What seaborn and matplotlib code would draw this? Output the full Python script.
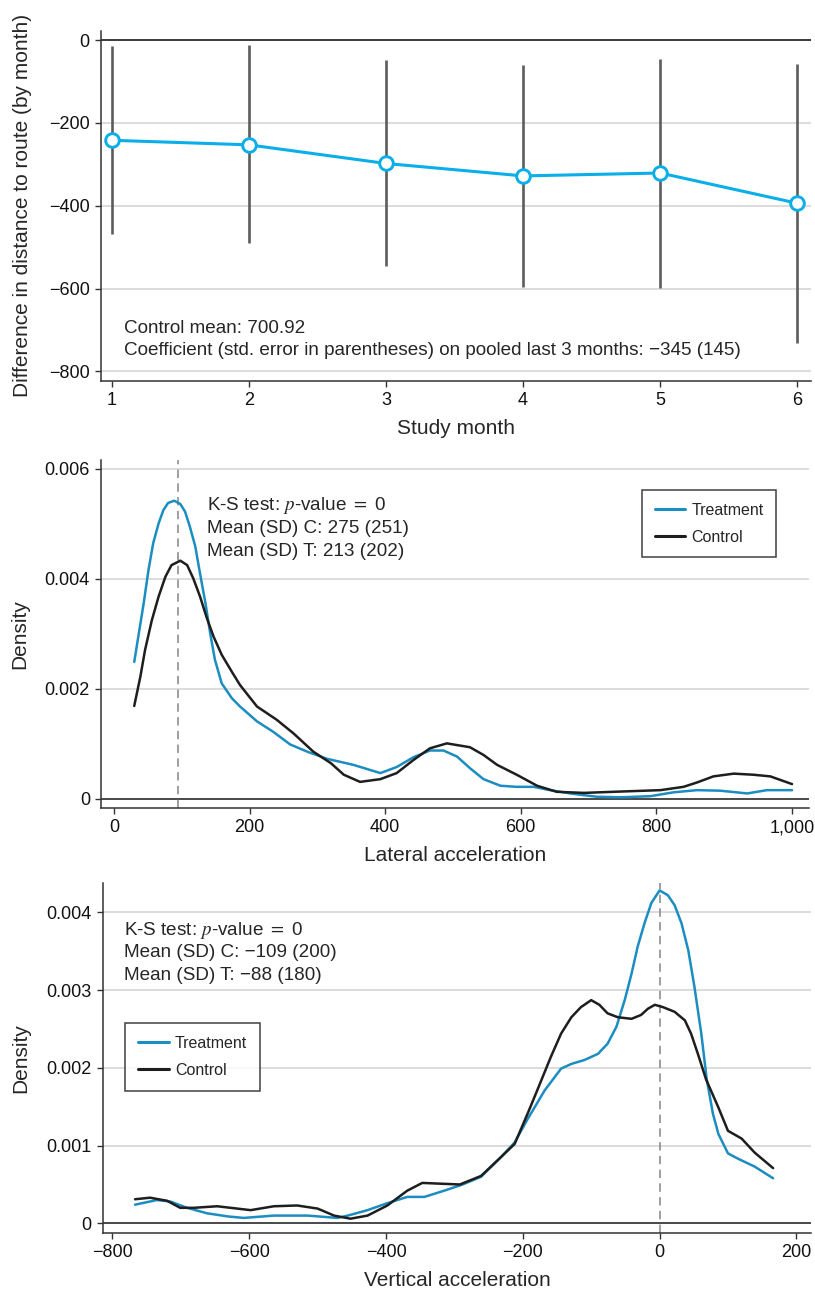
import matplotlib
matplotlib.use("Agg")
import matplotlib.pyplot as plt
from matplotlib.ticker import FuncFormatter, FixedLocator
import seaborn as sns

# ---- Panel A: monthly treatment effect on distance to route ----
months = [1, 2, 3, 4, 5, 6]
coef = [-242, -253, -298, -328, -321, -394]
ci_low = [-469, -491, -546, -596, -598, -731]
ci_high = [-14, -13, -48, -60, -46, -58]
control_mean_text = "Control mean: 700.92"
pooled_text = "Coefficient (std. error in parentheses) on pooled last 3 months: \u2212345 (145)"

# ---- Panel B: lateral acceleration densities ----
lat_treat_x = [30, 36, 44, 51, 58, 66, 73, 80, 89, 98, 105, 112, 120, 127, 135, 142, 149, 159,
               174, 186, 211, 235, 260, 285, 314, 353, 393, 417, 442, 466, 486, 506, 525, 545,
               570, 594, 619, 643, 673, 712, 747, 791, 825, 860, 894, 934, 963, 1000]
lat_treat_d = [.00249, .00295, .00356, .00416, .00465, .00501, .00525, .00538, .00542, .00536,
               .00522, .00495, .00459, .0041, .00356, .00301, .00253, .0021, .00183, .00168,
               .00141, .00122, .00099, .00086, .00073, .00062, .00047, .00058, .00076, .00088,
               .00088, .00077, .00056, .00036, .00024, .00022, .00022, .00016, .0001, .00004,
               .00003, .00005, .00012, .00016, .00015, .0001, .00016, .00016]
lat_ctrl_x = [30, 39, 46, 56, 66, 76, 85, 98, 108, 117, 127, 137, 147, 159, 174, 186, 211, 240,
              265, 294, 320, 339, 363, 393, 417, 442, 466, 491, 525, 545, 565, 594, 624, 653,
              693, 737, 806, 840, 860, 884, 914, 943, 968, 1000]
lat_ctrl_d = [.00169, .00222, .00271, .00325, .00368, .00404, .00425, .00433, .00425, .00401,
              .00368, .00329, .00295, .00262, .00231, .00207, .00168, .00144, .00119, .00086,
              .00065, .00044, .00031, .00036, .00047, .00071, .00092, .00101, .00094, .0008,
              .00062, .00044, .00024, .00013, .00011, .00013, .00016, .00022, .0003, .00041,
              .00046, .00044, .00041, .00027]
lat_mode = 95
lat_notes = [r"K-S test: $p$-value $=$ 0", "Mean (SD) C: 275 (251)", "Mean (SD) T: 213 (202)"]

# ---- Panel C: vertical acceleration densities ----
vert_treat_x = [-767, -735, -715, -691, -662, -632, -608, -564, -515, -471, -456, -427, -398,
                -369, -344, -315, -288, -261, -232, -212, -193, -168, -156, -144, -129, -110,
                -90, -76, -63, -51, -41, -32, -22, -12, 0, 12, 22, 32, 42, 51, 61, 69, 78, 86,
                100, 115, 139, 166]
vert_treat_d = [.00024, .0003, .00028, .0002, .00013, .00009, .00007, .0001, .0001, .00007,
                .0001, .00017, .00026, .00034, .00034, .00042, .0005, .0006, .00085, .00104,
                .00134, .00171, .00185, .00199, .00205, .0021, .00218, .00231, .00253, .00287,
                .00321, .00356, .00386, .00412, .00428, .00422, .00409, .00386, .00351, .00304,
                .00244, .00185, .00141, .00115, .0009, .00083, .00073, .00058]
vert_ctrl_x = [-767, -745, -720, -701, -681, -647, -598, -564, -530, -500, -476, -452, -427,
               -398, -369, -347, -320, -292, -261, -237, -212, -193, -178, -159, -144, -129,
               -115, -100, -88, -76, -61, -41, -27, -17, -7, 5, 22, 37, 46, 56, 68, 86, 100,
               120, 139, 166]
vert_ctrl_d = [.00031, .00033, .00029, .0002, .0002, .00022, .00017, .00022, .00023, .00019,
               .0001, .00006, .0001, .00023, .00042, .00052, .00051, .0005, .00061, .00081,
               .00102, .00141, .00173, .00214, .00244, .00265, .00278, .00287, .00281, .0027,
               .00265, .00263, .00268, .00276, .00281, .00278, .00272, .00261, .00244, .00218,
               .00185, .00149, .00119, .00109, .00091, .00071]
vert_mode = 0
vert_notes = [r"K-S test: $p$-value $=$ 0", "Mean (SD) C: \u2212109 (200)", "Mean (SD) T: \u221288 (180)"]

group_names = ["Treatment", "Control"]

# ---- style ----
sns.set_style("ticks")
plt.rcParams["font.family"] = ["Liberation Sans", "DejaVu Sans"]
plt.rcParams["mathtext.fontset"] = "stix"
plt.rcParams["axes.unicode_minus"] = True

CYAN = "#0aaee8"
BLUE = "#1b8dc0"
BLACK = "#1e1e1e"
BAR_GRAY = "#5c5c5c"
GRID = "#d2d2d2"
SPINE = "#333333"

W, H = 815, 1291
fig = plt.figure(figsize=(W / 100, H / 100), dpi=100)


def px_axes(x0, x1, y0, y1):
    return fig.add_axes([x0 / W, 1 - y1 / H, (x1 - x0) / W, (y1 - y0) / H])


def style_axes(ax):
    sns.despine(ax=ax)
    for s in ("left", "bottom"):
        ax.spines[s].set_color(SPINE)
        ax.spines[s].set_linewidth(1.1)
    ax.tick_params(axis="both", direction="out", length=4, width=1.0, color=SPINE,
                   labelsize=13, pad=4, labelcolor="#111111")
    ax.set_axisbelow(True)
    ax.yaxis.grid(True, color=GRID, lw=1.1)
    ax.xaxis.grid(False)


# ---- Panel A ----
ax1 = px_axes(100.8, 811, 30.7, 381)
style_axes(ax1)
ax1.vlines(months, ci_low, ci_high, color=BAR_GRAY, lw=1.9, zorder=2)
sns.lineplot(x=months, y=coef, ax=ax1, color=CYAN, lw=2.2, marker="o", markersize=9.8,
             markerfacecolor="white", markeredgecolor=CYAN, markeredgewidth=2.1, zorder=3)
ax1.axhline(0, color="#111111", lw=1.1, zorder=1.5)
ax1.set_xlim(0.92, 6.1)
ax1.set_ylim(-823, 22.5)
ax1.yaxis.set_major_locator(FixedLocator([0, -200, -400, -600, -800]))
ax1.xaxis.set_major_locator(FixedLocator(months))
ax1.set_xlabel("Study month", fontsize=15, labelpad=7)
ax1.set_ylabel("Difference in distance to route (by month)", fontsize=15)
ax1.yaxis.set_label_coords(-0.097, 0.5)
ax1.text(0.0324, 0.1379, control_mean_text, transform=ax1.transAxes, fontsize=13.6,
         va="baseline", ha="left")
ax1.text(0.0324, 0.0742, pooled_text, transform=ax1.transAxes, fontsize=13.6,
         va="baseline", ha="left")


def density_panel(ax, tx, td, cx, cd, mode, notes, note_x, note_ys, leg_xy, xlim, ylim,
                  yticks, xticks, xlabel, xfmt, yfmt):
    style_axes(ax)
    sns.lineplot(x=tx, y=td, ax=ax, color=BLUE, lw=1.8, label=group_names[0],
                 estimator=None, zorder=3)
    sns.lineplot(x=cx, y=cd, ax=ax, color=BLACK, lw=1.8, label=group_names[1],
                 estimator=None, zorder=3)
    ax.axhline(0, color="#222222", lw=1.1, zorder=1.5)
    ax.axvline(mode, color="#858585", lw=1.1, ls=(0, (5.5, 3.5)), zorder=2)
    ax.set_xlim(*xlim)
    ax.set_ylim(*ylim)
    ax.yaxis.set_major_locator(FixedLocator(yticks))
    ax.xaxis.set_major_locator(FixedLocator(xticks))
    ax.yaxis.set_major_formatter(FuncFormatter(yfmt))
    ax.xaxis.set_major_formatter(FuncFormatter(xfmt))
    ax.set_xlabel(xlabel, fontsize=15, labelpad=7)
    ax.set_ylabel("Density", fontsize=15)
    ax.yaxis.set_label_coords(-0.102, 0.5)
    for t, y in zip(notes, note_ys):
        ax.text(note_x, y, t, transform=ax.transAxes, fontsize=13.6, va="baseline", ha="left")
    leg = ax.legend(loc="upper left", bbox_to_anchor=leg_xy, borderaxespad=0,
                    fontsize=11.5, frameon=True, fancybox=False, handlelength=1.9,
                    handletextpad=0.4, labelspacing=0.75, borderpad=0.8)
    leg.get_frame().set_edgecolor("#111111")
    leg.get_frame().set_linewidth(1.1)
    for line in leg.get_lines():
        line.set_linewidth(2.2)


def dens_fmt(v, _):
    return "0" if abs(v) < 1e-12 else f"{v:.3f}"


# ---- Panel B ----
ax2 = px_axes(101, 809, 460, 808.3)
density_panel(ax2, lat_treat_x, lat_treat_d, lat_ctrl_x, lat_ctrl_d, lat_mode, lat_notes,
              0.150, [0.8564, 0.7893, 0.7252], (0.764, 0.914), (-19, 1025),
              (-0.00017, 0.00616), [0, 0.002, 0.004, 0.006], [0, 200, 400, 600, 800, 1000],
              "Lateral acceleration", lambda v, _: f"{v:,.0f}", dens_fmt)

# ---- Panel C ----
ax3 = px_axes(102.9, 811.4, 882.7, 1232.7)
density_panel(ax3, vert_treat_x, vert_treat_d, vert_ctrl_x, vert_ctrl_d, vert_mode, vert_notes,
              0.0295, [0.8506, 0.7869, 0.722], (0.0318, 0.5983), (-814, 222),
              (-0.00012, 0.00438), [0, 0.001, 0.002, 0.003, 0.004],
              [-800, -600, -400, -200, 0, 200], "Vertical acceleration",
              lambda v, _: f"{v:.0f}".replace("-", "\u2212"), dens_fmt)

fig.savefig("out.png", dpi=100)
